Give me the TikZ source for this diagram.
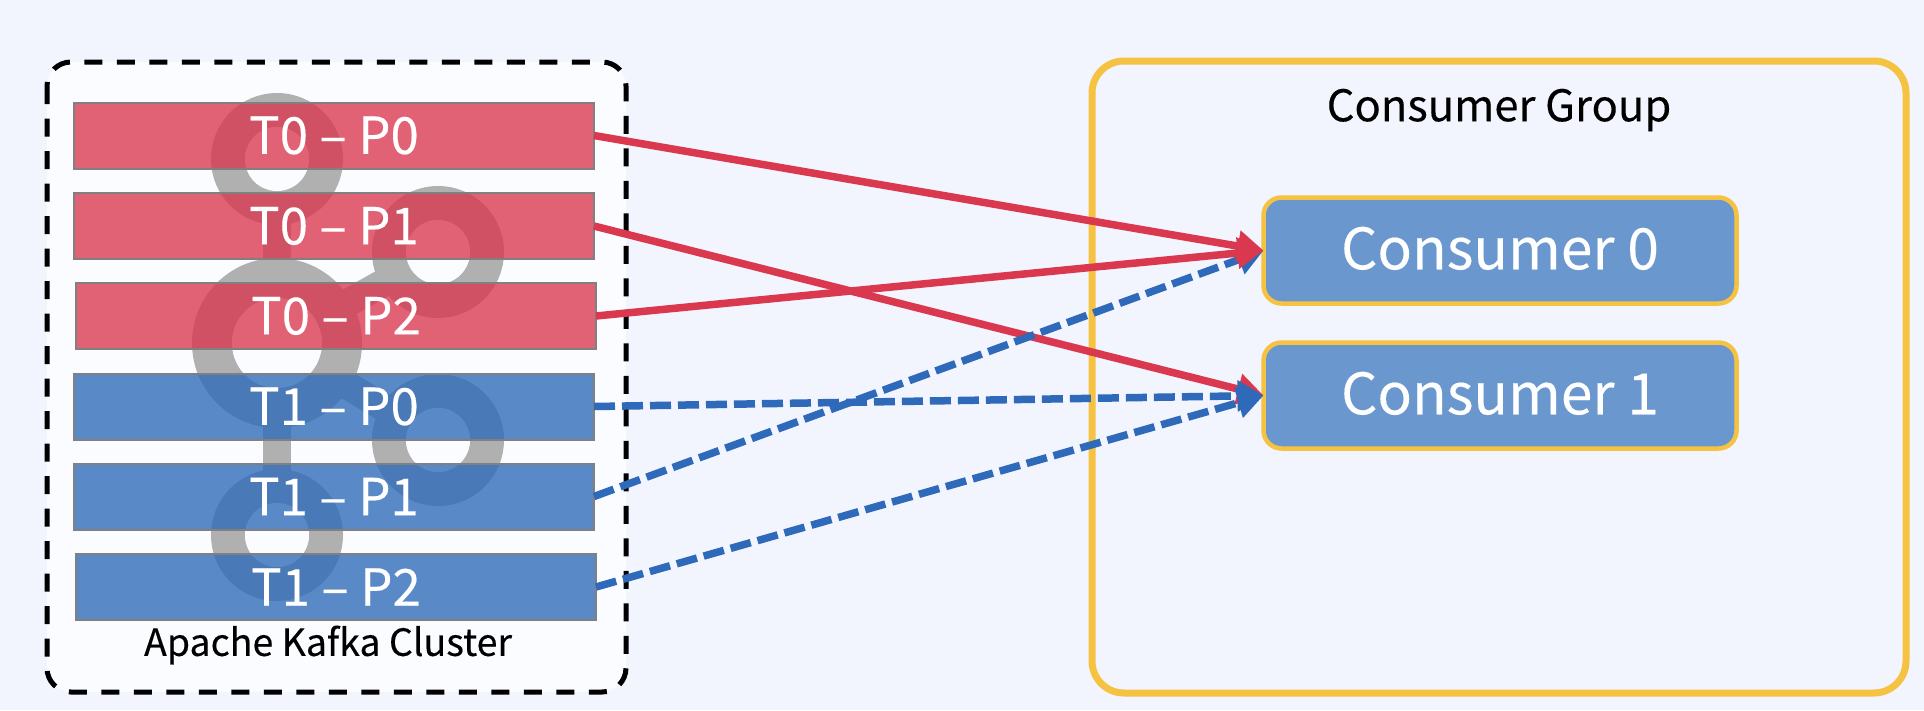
\documentclass[tikz,border=0pt]{standalone}
\usepackage{fontspec}
\setmainfont[FakeBold=0.25]{Noto Sans CJK SC}
\usetikzlibrary{arrows.meta}
\definecolor{bgc}{HTML}{F2F5FE}
\definecolor{panelc}{HTML}{FBFCFF}
\definecolor{redc}{HTML}{DA384E}
\definecolor{bluec}{HTML}{2E6AB9}
\definecolor{goldc}{HTML}{F5C242}
\definecolor{logoc}{HTML}{B0B0B0}
\definecolor{consc}{HTML}{6A98CE}
\tikzset{
  part/.style={rectangle,draw=gray,line width=2pt,outer sep=0pt,minimum width=520pt,minimum height=66pt,inner sep=0pt,fill opacity=.785,text opacity=1,text=white,font=\fontsize{51}{51}\selectfont},
  redpart/.style={part,fill=redc},
  bluepart/.style={part,fill=bluec},
  consumer/.style={rectangle,rounded corners=18pt,draw=goldc,line width=4.5pt,outer sep=0pt,fill=consc,minimum width=473pt,minimum height=106pt,inner sep=0pt,text=white,font=\fontsize{57}{57}\selectfont},
  redline/.style={draw=redc,line width=7.5pt,-{Triangle[length=26pt,width=30pt]}},
  blueline/.style={draw=bluec,line width=7.5pt,dash pattern=on 21pt off 7pt,-{Triangle[length=26pt,width=30pt]}},
  logoring/.style={draw=logoc,line width=#1},
  caption/.style={text=black,inner sep=0pt}
}
\begin{document}
\begin{tikzpicture}[x=1pt,y=-1pt]
\useasboundingbox (0,0) rectangle (1924,710);
\fill[bgc] (0,0) rectangle (1924,710);
% Kafka cluster panel
\draw[black,line width=5pt,dashed,dash pattern=on 18pt off 14.5pt,fill=panelc,rounded corners=24pt] (47,62) rectangle (626,692);
% logo
\draw[logoc,line width=28pt] (277,159) -- (277,535);
\draw[logoc,line width=28pt] (277,343) -- (438,252);
\draw[logoc,line width=28pt] (277,343) -- (438,440);
\draw[logoring=34pt] (277,159) circle (49pt);
\draw[logoring=34pt] (438,252) circle (49pt);
\draw[logoring=34pt] (438,440) circle (49pt);
\draw[logoring=34pt] (277,535) circle (49pt);
\fill[panelc] (277,159) circle (32pt);
\fill[panelc] (438,252) circle (32pt);
\fill[panelc] (438,440) circle (32pt);
\fill[panelc] (277,535) circle (32pt);
\draw[logoring=40pt] (277,343) circle (65pt);
\fill[panelc] (277,343) circle (45pt);
% partitions
\node[redpart] (t0p0) at (334,135.5) {T0 – P0};
\node[redpart] (t0p1) at (334,226) {T0 – P1};
\node[redpart] (t0p2) at (336,316) {T0 – P2};
\node[bluepart] (t1p0) at (334,406.5) {T1 – P0};
\node[bluepart] (t1p1) at (334,496.5) {T1 – P1};
\node[bluepart] (t1p2) at (336,587) {T1 – P2};
\node[caption,font=\fontsize{37.5}{37.5}\selectfont] (cluster) at (328,645) {Apache Kafka Cluster};
% consumer group
\node[draw=goldc,line width=7pt,rounded corners=32pt,minimum width=814pt,minimum height=632pt,inner sep=0pt] (group) at (1499,377) {};
\node[caption,font=\fontsize{43.5}{43.5}\selectfont] (grouplabel) at (1499,110) {Consumer Group};
\node[consumer] (c0) at (1500,250.5) {\raisebox{5pt}{Consumer 0}};
\node[consumer] (c1) at (1500,395.5) {\raisebox{5pt}{Consumer 1}};
% connectors
\draw[redline] (t0p1.east) -- (c1.west);
\draw[blueline] (t1p0.east) -- (c1.west);
\draw[blueline] (t1p1.east) -- (c0.west);
\draw[blueline] (t1p2.east) -- (c1.west);
\draw[redline] (t0p0.east) -- (c0.west);
\draw[redline] (t0p2.east) -- (c0.west);
\end{tikzpicture}
\end{document}
